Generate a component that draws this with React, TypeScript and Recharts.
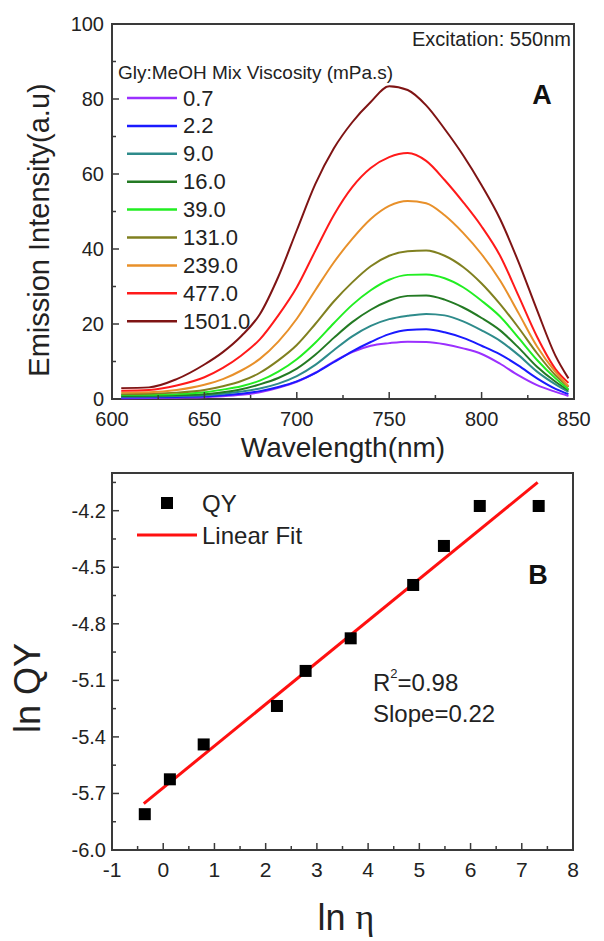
import React from 'react';
import { LineChart, Line, XAxis, YAxis, ReferenceArea, ScatterChart, Scatter } from 'recharts';

// Panel A: emission spectra at different Gly:MeOH viscosities
const WAVELENGTHS = [605, 620, 635, 650, 660, 670, 680, 690, 700, 710, 720, 730, 740, 750, 760, 770, 780, 790, 800, 810, 820, 830, 840, 847];

const I_0_7 = [0.2, 0.25, 0.35, 0.45, 0.7, 1.1, 1.8, 3.0, 4.6, 7.0, 10.0, 12.5, 14.2, 14.9, 15.3, 15.2, 14.6, 13.5, 12.0, 9.4, 6.3, 3.7, 1.9, 0.8];
const I_2_2 = [0.4, 0.45, 0.55, 0.7, 1.0, 1.4, 2.1, 3.2, 4.7, 6.9, 9.8, 12.7, 15.2, 17.3, 18.4, 18.6, 17.8, 16.3, 14.2, 11.9, 8.9, 5.5, 2.7, 1.3];
const I_9_0 = [0.6, 0.65, 0.8, 1.0, 1.4, 2.0, 2.8, 4.1, 6.1, 9.1, 13.0, 16.7, 19.5, 21.3, 22.2, 22.7, 22.3, 20.7, 18.3, 15.5, 11.7, 7.3, 3.9, 1.9];
const I_16_0 = [0.8, 0.85, 1.0, 1.25, 1.8, 2.6, 3.9, 5.6, 8.1, 11.8, 16.3, 20.5, 23.8, 26.2, 27.5, 27.6, 26.5, 24.4, 21.6, 18.3, 13.7, 8.6, 4.6, 2.3];
const I_39_0 = [1.1, 1.15, 1.3, 1.8, 2.5, 3.4, 4.9, 7.3, 10.6, 15.0, 20.2, 25.1, 29.0, 31.8, 33.1, 33.2, 32.2, 29.8, 26.2, 22.0, 16.3, 10.4, 5.5, 2.6];
const I_131_0 = [1.3, 1.4, 1.7, 2.4, 3.4, 4.8, 7.0, 10.3, 14.4, 20.0, 26.0, 31.1, 35.4, 38.2, 39.4, 39.6, 38.2, 35.2, 30.8, 25.3, 19.0, 12.2, 6.3, 3.2];
const I_239_0 = [1.7, 1.8, 2.4, 3.8, 5.3, 7.6, 10.7, 15.3, 21.4, 29.0, 36.4, 42.7, 48.0, 51.5, 52.8, 52.2, 49.0, 44.3, 38.6, 31.6, 22.9, 14.0, 7.2, 3.4];
const I_477_0 = [2.2, 2.4, 3.6, 5.8, 8.3, 11.6, 15.9, 22.3, 29.8, 39.5, 49.0, 56.5, 61.6, 64.5, 65.6, 63.5, 58.4, 52.5, 46.0, 38.2, 27.5, 16.6, 8.0, 4.3];
const I_1501_0 = [2.9, 3.1, 5.3, 9.2, 12.5, 16.8, 22.6, 32.6, 45.0, 57.3, 66.8, 73.8, 79.2, 83.4, 82.4, 78.3, 72.0, 65.0, 57.0, 48.0, 36.5, 23.7, 11.5, 5.5];

const VISCOSITIES = ['0.7', '2.2', '9.0', '16.0', '39.0', '131.0', '239.0', '477.0', '1501.0'];
const SPECTRA = [I_0_7, I_2_2, I_9_0, I_16_0, I_39_0, I_131_0, I_239_0, I_477_0, I_1501_0];
const COLORS = ['#9b30ff', '#1a1aff', '#2e8b8b', '#237a23', '#22ee22', '#808020', '#e8902a', '#ff1a1a', '#7f1414'];

const TOP_X_TICKS = [600, 625, 650, 675, 700, 725, 750, 775, 800, 825, 850];
const TOP_Y_TICKS = [0, 10, 20, 30, 40, 50, 60, 70, 80, 90, 100];

// Panel B: ln QY vs ln viscosity
const LN_ETA = [-0.36, 0.13, 0.79, 2.22, 2.78, 3.66, 4.88, 5.48, 6.18, 7.33];
const LN_QY = [-5.81, -5.625, -5.44, -5.236, -5.05, -4.877, -4.594, -4.387, -4.175, -4.175];
const FIT_X = [-0.38, 7.31];
const FIT_Y = [-5.754, -4.05];

const BOT_X_TICKS = [-1, -0.5, 0, 0.5, 1, 1.5, 2, 2.5, 3, 3.5, 4, 4.5, 5, 5.5, 6, 6.5, 7, 7.5, 8];
const BOT_Y_TICKS = [-6.0, -5.85, -5.7, -5.55, -5.4, -5.25, -5.1, -4.95, -4.8, -4.65, -4.5, -4.35, -4.2, -4.05];

const FONT = '"Liberation Sans", Arial, sans-serif';
const AXIS = '#3a3a3a';
const TEXT = '#222';

const spectraData = WAVELENGTHS.map((wl, i) => {
  const row: Record<string, number> = { wl };
  SPECTRA.forEach((s, k) => { row['s' + k] = s[i]; });
  return row;
});

const qyData = LN_ETA.map((x, i) => ({ x, y: LN_QY[i] }));
const fitData = FIT_X.map((x, i) => ({ x, y: FIT_Y[i] }));

const near = (a: number, b: number) => Math.abs(a - b) < 1e-6;

const xTick = (isMajor: (v: number) => boolean, fmt: (v: number) => string, dy: number, fs: number) =>
  (props: any) => {
    const { x, y, payload } = props;
    const major = isMajor(payload.value);
    return (
      <g>
        <line x1={x} x2={x} y1={y} y2={y - (major ? 7 : 4)} stroke={AXIS} strokeWidth={1.5} />
        {major && (
          <text x={x} y={y + dy} textAnchor="middle" dominantBaseline="central" fontSize={fs} fill={TEXT} fontFamily={FONT}>
            {fmt(payload.value)}
          </text>
        )}
      </g>
    );
  };

const yTick = (isMajor: (v: number) => boolean, fmt: (v: number) => string, gap: number, fs: number) =>
  (props: any) => {
    const { x, y, payload } = props;
    const major = isMajor(payload.value);
    return (
      <g>
        <line x1={x} x2={x + (major ? 7 : 4)} y1={y} y2={y} stroke={AXIS} strokeWidth={1.5} />
        {major && (
          <text x={x - gap} y={y} textAnchor="end" dominantBaseline="central" fontSize={fs} fill={TEXT} fontFamily={FONT}>
            {fmt(payload.value)}
          </text>
        )}
      </g>
    );
  };

const Square = (props: any) => {
  const { cx, cy } = props;
  return <rect x={cx - 6} y={cy - 6} width={12} height={12} fill="#000" />;
};

const Nothing = () => <g />;

export default function App() {
  return (
    <div style={{ position: 'absolute', left: 0, top: 0, width: 604, height: 941, background: '#fff', fontFamily: FONT }}>
      <div style={{ position: 'absolute', left: 0, top: 0 }}>
        <LineChart width={604} height={440} data={spectraData} margin={{ top: 24, right: 30, bottom: 0, left: 0 }}>
          <XAxis
            type="number"
            dataKey="wl"
            domain={[600, 850]}
            ticks={TOP_X_TICKS}
            interval={0}
            height={41}
            axisLine={false}
            tickLine={false}
            tickSize={0}
            tickMargin={0}
            tick={xTick((v) => v % 50 === 0, (v) => String(v), 20, 20)}
          />
          <YAxis
            type="number"
            domain={[0, 100]}
            ticks={TOP_Y_TICKS}
            interval={0}
            width={112}
            axisLine={false}
            tickLine={false}
            tickSize={0}
            tickMargin={0}
            tick={yTick((v) => v % 20 === 0, (v) => String(v), 8, 20)}
          />
          <ReferenceArea x1={600} x2={850} y1={0} y2={100} fill="none" stroke={AXIS} strokeWidth={2} />
          {SPECTRA.map((_, k) => (
            <Line
              key={k}
              type="monotone"
              dataKey={'s' + k}
              name={VISCOSITIES[k]}
              stroke={COLORS[k]}
              strokeWidth={2}
              dot={false}
              isAnimationActive={false}
            />
          ))}
        </LineChart>
      </div>

      <div style={{ position: 'absolute', left: 0, top: 440 }}>
        <ScatterChart width={604} height={501} margin={{ top: 33, right: 31, bottom: 0, left: 0 }}>
          <XAxis
            type="number"
            dataKey="x"
            domain={[-1, 8]}
            ticks={BOT_X_TICKS}
            interval={0}
            height={91}
            axisLine={false}
            tickLine={false}
            tickSize={0}
            tickMargin={0}
            tick={xTick((v) => Number.isInteger(v), (v) => String(v), 19, 21)}
          />
          <YAxis
            type="number"
            dataKey="y"
            domain={[-6.0, -4.0]}
            ticks={BOT_Y_TICKS}
            interval={0}
            width={112}
            axisLine={false}
            tickLine={false}
            tickSize={0}
            tickMargin={0}
            tick={yTick((v) => near((v + 6) / 0.3, Math.round((v + 6) / 0.3)), (v) => v.toFixed(1), 6, 20)}
          />
          <ReferenceArea x1={-1} x2={8} y1={-6.0} y2={-4.0} fill="none" stroke={AXIS} strokeWidth={2} />
          <Scatter
            name="Linear Fit"
            data={fitData}
            line={{ stroke: '#ff1010', strokeWidth: 3 }}
            shape={Nothing}
            isAnimationActive={false}
          />
          <Scatter name="QY" data={qyData} shape={Square} isAnimationActive={false} />
        </ScatterChart>
      </div>

      <svg width={604} height={941} style={{ position: 'absolute', left: 0, top: 0, pointerEvents: 'none' }} fontFamily={FONT}>
        {/* panel A texts */}
        <text transform="translate(39,230) rotate(-90)" textAnchor="middle" dominantBaseline="central" fontSize={29} fill={TEXT}>
          Emission Intensity(a.u)
        </text>
        <text x={343} y={447} textAnchor="middle" dominantBaseline="central" fontSize={28} fill={TEXT}>
          Wavelength(nm)
        </text>
        <text x={571} y={39} textAnchor="end" dominantBaseline="central" fontSize={20} fill={TEXT}>
          Excitation: 550nm
        </text>
        <text x={542} y={95} textAnchor="middle" dominantBaseline="central" fontSize={27} fontWeight="bold" fill="#111">
          A
        </text>
        <text x={118} y={72} dominantBaseline="central" fontSize={19} fill={TEXT}>
          Gly:MeOH Mix Viscosity (mPa.s)
        </text>
        {VISCOSITIES.map((v, k) => {
          const y = 98 + k * 27.9;
          return (
            <g key={v}>
              <line x1={127} x2={177} y1={y} y2={y} stroke={COLORS[k]} strokeWidth={2.5} />
              <text x={183} y={y} dominantBaseline="central" fontSize={22} fill={TEXT}>{v}</text>
            </g>
          );
        })}

        {/* panel B texts */}
        <text transform="translate(27,688) rotate(-90)" textAnchor="middle" dominantBaseline="central" fontSize={36} fill={TEXT}>
          ln QY
        </text>
        <text x={346} y={917} textAnchor="middle" dominantBaseline="central" fontSize={36} fill={TEXT}>
          ln <tspan fontFamily='"Liberation Serif", serif'>η</tspan>
        </text>
        <rect x={161} y={497} width={12} height={12} fill="#000" />
        <text x={202} y={503} dominantBaseline="central" fontSize={24} fill={TEXT}>QY</text>
        <line x1={137} x2={197} y1={535} y2={535} stroke="#ff1010" strokeWidth={3} />
        <text x={202} y={535} dominantBaseline="central" fontSize={24} fill={TEXT}>Linear Fit</text>
        <text x={538} y={575} textAnchor="middle" dominantBaseline="central" fontSize={27} fontWeight="bold" fill="#111">
          B
        </text>
        <text x={373} y={682} dominantBaseline="central" fontSize={24} fill={TEXT}>
          R<tspan fontSize={13} dy={-9}>2</tspan><tspan dy={9}>=0.98</tspan>
        </text>
        <text x={373} y={713} dominantBaseline="central" fontSize={24} fill={TEXT}>
          Slope=0.22
        </text>
      </svg>
    </div>
  );
}
